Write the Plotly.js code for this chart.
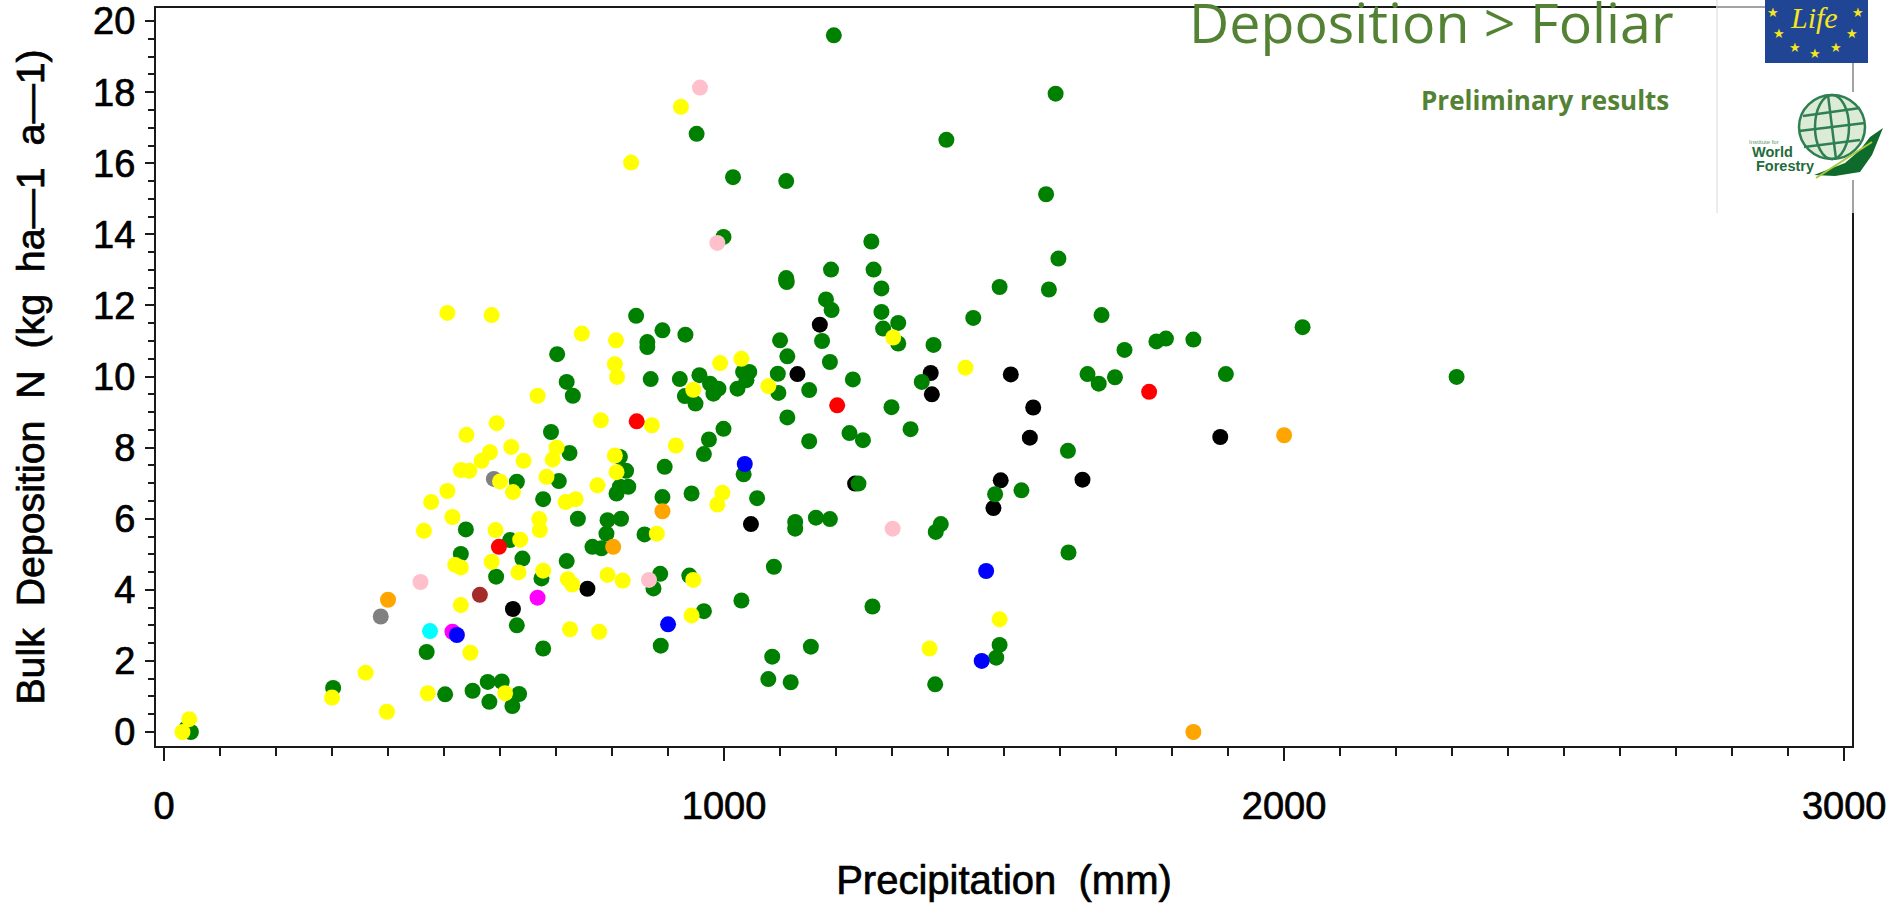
<!DOCTYPE html>
<html><head><meta charset="utf-8">
<script src="https://cdn.plot.ly/plotly-3.0.1.min.js"></script>
<style>html,body{margin:0;padding:0;background:#fff;overflow:hidden}#c{width:1903px;height:904px}
.xtick text,.ytick text,.xtitle,.ytitle{stroke:#000;stroke-width:0.7px}</style>
</head><body><div id="c"></div>
<script>
const greenX=[843,890,931,863,863,1100,1113,1112,702,719,730,869,921,956,975,990,981,930,949,1034,1045,1040,1024,1096,1097,1113,691,724,630,705,999,973,964,894,1035,1059,942,890,677,825,829,808,814,814,739,792,816,790,858,539,618,765,781,1127,1127,530,640,593,674,719,886,874,938,1089,1031,964,630,469,677,887,1086,1079,1119,502,551,578,603,634,581,622,1281,1492,1580,1182,1192,1281,1311,1284,1311,1445,1674,1715,1772,1789,1374,1175,1353,1189,1230,1152,1649,1669,1698,1299,1333,1224,1248,1152,1614,1240,1531,1484,1164,1189,1387,1378,1615,1265,1155,1492,1486,1377,1838,2033,1896,2308,1196,1592,951,1397,1016,1111,1575,999,1263,1597,1267,1111,1111,1191,302,48,40];
const greenY=[11.71,11.30,11.18,10.97,10.83,11.02,10.57,12.66,10.63,9.85,9.46,9.93,9.93,10.04,9.80,9.66,9.52,9.45,9.24,10.13,10.13,9.90,9.66,10.08,9.54,8.85,8.44,7.85,7.04,7.06,8.53,8.23,7.82,7.46,7.25,6.58,6.71,6.61,6.55,7.35,6.90,6.71,6.90,7.74,6.00,5.96,6.00,5.58,5.56,5.70,5.40,5.21,5.17,5.91,5.72,5.01,4.88,4.37,4.32,4.81,4.45,4.04,4.40,4.65,3.70,3.40,3.00,2.25,2.35,2.43,2.12,1.49,1.40,1.06,1.16,1.41,1.42,1.07,0.85,0.73,12.48,12.52,12.45,12.17,11.87,11.82,11.51,11.35,10.93,11.65,11.73,10.75,10.99,11.07,10.89,11.00,9.85,10.41,9.92,9.62,10.07,9.80,9.98,9.14,8.52,8.41,8.21,8.18,7.91,6.99,6.80,6.69,6.03,5.99,5.85,5.63,5.05,3.53,2.40,2.45,2.09,1.34,11.04,11.39,10.07,9.99,19.60,17.96,16.83,16.66,15.61,15.50,15.13,13.93,13.80,13.32,13.01,12.77,12.70,13.01,1.24,0.00,0.10];
const yellowX=[506,585,746,807,805,809,667,993,1031,945,1079,780,871,914,594,540,620,582,567,642,701,694,530,545,600,623,683,805,808,774,506,477,515,464,592,670,671,717,735,880,636,997,988,520,530,585,633,677,721,729,792,819,945,530,942,725,777,547,471,609,1492,1367,1302,1431,923,834,45,33,300,360,398];
const yellowY=[11.79,11.73,11.21,11.02,10.35,9.99,9.46,10.38,10.50,9.63,9.73,8.77,8.63,8.06,8.69,8.36,8.02,7.87,7.63,7.63,8.00,7.67,7.37,7.35,7.05,6.75,7.18,7.78,7.31,6.94,6.78,6.47,6.05,5.66,5.68,5.99,5.68,6.47,6.55,5.58,5.41,6.73,6.40,4.70,4.63,4.79,4.49,4.54,4.30,4.15,4.42,4.26,4.28,3.57,3.28,2.89,2.82,2.23,1.09,1.09,3.17,2.35,11.10,10.25,17.59,16.02,0.36,0.00,0.97,1.67,0.57];
const blackX=[1131,1048,756,623,1171,1369,1512,1371,1552,1546,1234,1494,1640,1481,1886];
const blackY=[10.07,5.85,4.03,3.46,11.46,10.10,10.06,9.50,9.13,8.28,6.99,7.08,7.10,6.30,8.30];
const redX=[844,598,1759,1202];
const redY=[8.74,5.21,9.57,9.19];
const blueX=[1037,523,900,1468,1460];
const blueY=[7.54,2.73,3.03,4.53,2.00];
const orangeX=[890,802,400,2000,1838];
const orangeY=[6.21,5.21,3.72,8.35,0.00];
const pinkX=[866,458,1301,957,988];
const pinkY=[4.28,4.22,5.72,18.13,13.76];
const grayX=[589,387];
const grayY=[7.12,3.25];
const magentaX=[667,515];
const magentaY=[3.78,2.82];
const cyanX=[475];
const cyanY=[2.84];
const brownX=[564];
const brownY=[3.86];
const xTicks=[0,1000,2000,3000];
const yTicks=[0,2,4,6,8,10,12,14,16,18,20];
const xTitle="Precipitation\u00a0 (mm)";
const yTitle="Bulk\u00a0 Deposition\u00a0 N\u00a0 (kg\u00a0 ha\u20141\u00a0 a\u20141)\u00a0";
const heading="Deposition > Foliar";
const subheading="Preliminary results";

const W=1903,H=904,L=156,R=1852,T=8,B=746;
const px=v=>(v-L)/(R-L), py=v=>(B-v)/(B-T);
const mk=(name,x,y,color)=>({type:'scatter',mode:'markers',name,x,y,marker:{color,size:16,line:{width:0}},cliponaxis:false,hoverinfo:'x+y'});
const traces=[mk('gray',grayX,grayY,'#808080'),mk('black',blackX,blackY,'#000000'),mk('green',greenX,greenY,'#008000'),
 mk('yellow',yellowX,yellowY,'#ffff00'),mk('pink',pinkX,pinkY,'#ffc0cb'),mk('orange',orangeX,orangeY,'#ffa500'),
 mk('brown',brownX,brownY,'#a52a2a'),mk('cyan',cyanX,cyanY,'#00ffff'),mk('magenta',magentaX,magentaY,'#ff00ff'),
 mk('blue',blueX,blueY,'#0000ff'),mk('red',redX,redY,'#ff0000')];

const rect=(x0,y0,x1,y1,fill,op)=>({type:'rect',xref:'paper',yref:'paper',x0:px(x0),x1:px(x1),y0:py(y0),y1:py(y1),fillcolor:fill,opacity:op==null?1:op,line:{width:0}});
const ell=(cx,cy,rx,ry,color,w,fill)=>({type:'circle',xref:'paper',yref:'paper',x0:px(cx-rx),x1:px(cx+rx),y0:py(cy-ry),y1:py(cy+ry),fillcolor:fill||'rgba(0,0,0,0)',line:{color,width:w}});
const seg=(x0,y0,x1,y1,color,w)=>({type:'line',xref:'paper',yref:'paper',x0:px(x0),x1:px(x1),y0:py(y0),y1:py(y1),line:{color,width:w}});
const path=(pts,fill)=>({type:'path',xref:'paper',yref:'paper',fillcolor:fill,line:{width:0},path:pts.map((p,i)=>(i?'L':'M')+px(p[0])+','+py(p[1])).join(' ')+' Z'});
const gc='#2f7f52';
const shapes=[
 rect(1718,0,1903,213,'#ffffff',0.6),
 rect(1730,92,1903,180,'#ffffff'),
 seg(1717,0,1717,213,'#e3e8e1',1.5),
 rect(1765,0,1868,63,'#1f4594'),
 ell(1832,127,33,32,gc,2.5,'#dcebd6'),
 ell(1832,127,17,32,gc,2.5),
 seg(1828,95,1836,159,gc,2.5),
 seg(1803,116,1860,108,gc,2.5),
 seg(1799,131,1865,123,gc,2.5),
 seg(1804,147,1860,140,gc,2.5),
 path([[1883,128],[1870,137],[1860,150],[1845,163],[1814,175],[1835,176],[1860,172],[1872,155]],'#0f6b2b'),
 seg(1872,142,1816,178,'#a8c93a',2)
];
const ann=(text,x,y,size,color,opt)=>Object.assign({text,xref:'paper',yref:'paper',x:px(x),y:py(y),showarrow:false,xanchor:'center',yanchor:'middle',font:{size,color,family:'"Liberation Sans",sans-serif'}},opt||{});
const stars=[[1773,13],[1779,33],[1795,48],[1815,53],[1836,48],[1852,33],[1858,13]];
const annotations=[
 ann(heading,1676,22,55.5,'#548235',{xanchor:'right',font:{size:55.5,color:'#548235',family:'"Open Sans",sans-serif'}}),
 ann(subheading,1671,100,26,'#548235',{xanchor:'right',font:{size:26,color:'#548235',family:'"Open Sans",sans-serif',weight:700}}),
 ann('Life',1814,18,30,'#f5e61e',{font:{size:30,color:'#f5e61e',family:'"Liberation Serif",serif',style:'italic'}}),
 ann('<b>World</b>',1772,152,14.5,'#1f6b3a'),
 ann('<b>Forestry</b>',1785,166,14.5,'#1f6b3a'),
 ann('Institute for',1764,142,6,'#5f9a6c')
].concat(stars.map(s=>ann('\u2605',s[0],s[1],13,'#f5e61e')));

const axisCommon={showgrid:false,zeroline:false,showline:true,linecolor:'#1a1a1a',linewidth:2,mirror:true,ticks:'outside',tickcolor:'#1a1a1a',tickwidth:2,tickfont:{family:'"Liberation Sans",Arial,sans-serif',size:38,color:'#000'}};
const layout={width:W,height:H,paper_bgcolor:'#fff',plot_bgcolor:'#fff',showlegend:false,hovermode:'closest',
 margin:{l:L,r:W-R,t:T,b:H-B,pad:0},
 xaxis:Object.assign({},axisCommon,{range:[-14.3,3014],tickmode:'array',tickvals:xTicks,ticktext:xTicks.map(String),ticklen:13,ticklabelstandoff:12,
   minor:{dtick:100,ticks:'outside',ticklen:8,tickwidth:2,tickcolor:'#1a1a1a',showgrid:false},
   title:{text:xTitle,font:{family:'"Liberation Sans",Arial,sans-serif',size:40,color:'#000'},standoff:40}}),
 yaxis:Object.assign({},axisCommon,{range:[-0.394,20.37],tickmode:'array',tickvals:yTicks,ticktext:yTicks.map(String),ticklen:9,ticklabelstandoff:2,
   minor:{dtick:0.5,ticks:'outside',ticklen:6,tickwidth:2,tickcolor:'#1a1a1a',showgrid:false},
   title:{text:yTitle,font:{family:'"Liberation Sans",Arial,sans-serif',size:39.3,color:'#000'},standoff:36}}),
 shapes,annotations};
Plotly.newPlot('c',traces,layout,{displayModeBar:false,responsive:false});
</script></body></html>
